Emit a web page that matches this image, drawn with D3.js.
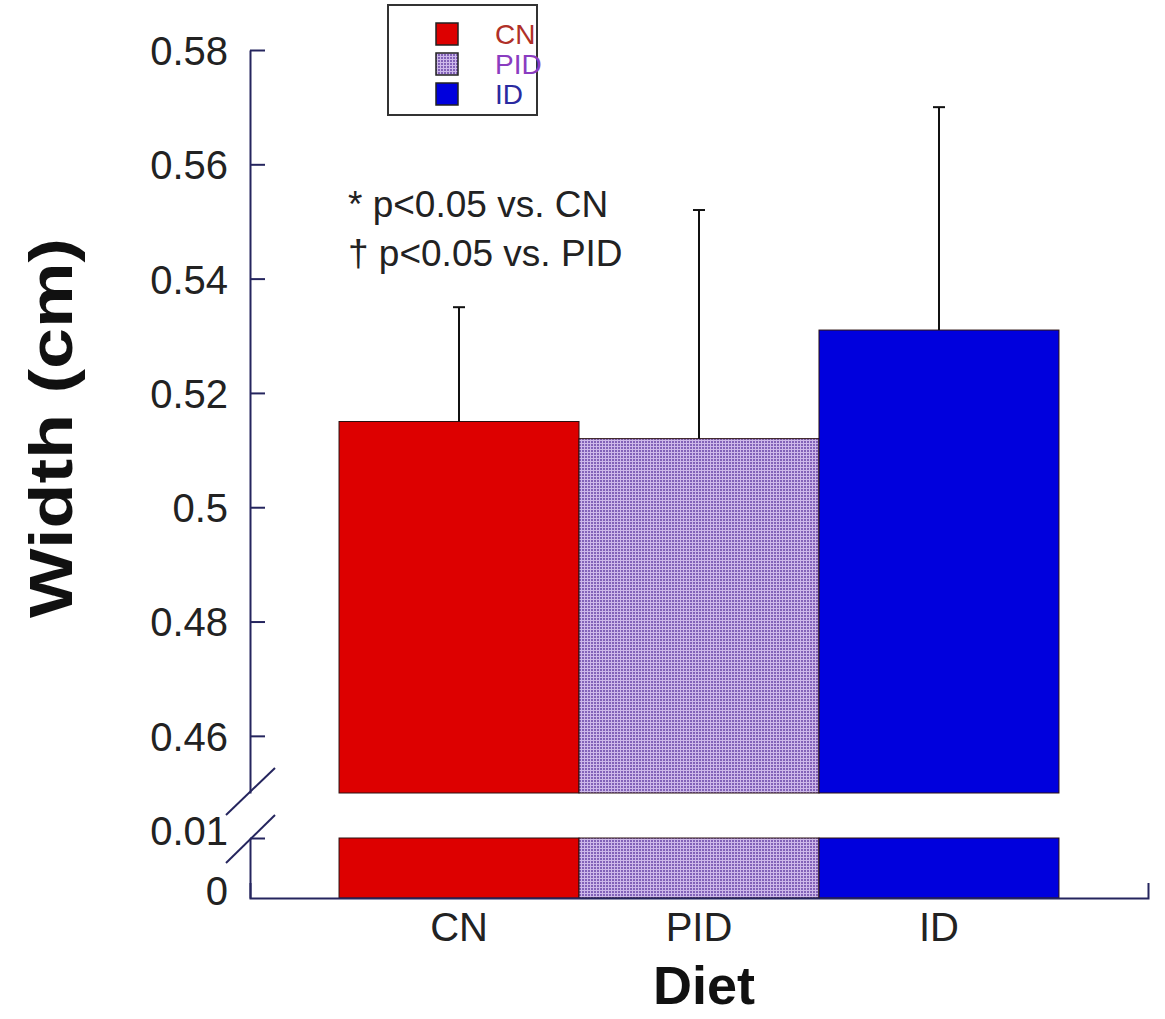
<!DOCTYPE html>
<html><head><meta charset="utf-8">
<script src="https://cdn.jsdelivr.net/npm/d3@7"></script>
<style>body{margin:0;background:#fff}text{font-family:"Liberation Sans",Arial,sans-serif}</style>
</head><body>
<svg id="c" width="1165" height="1019"></svg>
<script>
const categories = ["CN", "PID", "ID"];
const means = [0.515, 0.512, 0.531];
const errors = [0.020, 0.040, 0.039];
const upperTicks = [0.46, 0.48, 0.50, 0.52, 0.54, 0.56, 0.58];
const lowerTicks = [0, 0.01];
const legendLabels = ["CN", "PID", "ID"];
const notes = ["* p<0.05 vs. CN", "\u2020 p<0.05 vs. PID"];

const svg = d3.select("#c");
const defs = svg.append("defs");
const pat = defs.append("pattern").attr("id","pid").attr("width",3).attr("height",3).attr("patternUnits","userSpaceOnUse");
pat.append("rect").attr("width",3).attr("height",3).attr("fill","#cdb8ea");
pat.append("rect").attr("width",2).attr("height",2).attr("fill","#8262b8");

const fills = ["#dd0000", "url(#pid)", "#0000dd"];
const textCols = ["#b03028", "#8a3cc0", "#2a2aa0"];

const x = d3.scaleBand().domain(categories).range([250, 1148]).paddingInner(0).paddingOuter(0.371);
const yU = d3.scaleLinear().domain([0.45, 0.58]).range([793, 50]);
const yL = d3.scaleLinear().domain([0, 0.01]).range([898, 838]);
const axisCol = "#25255e";

// bars
const g = svg.append("g");
categories.forEach((c, i) => {
  g.append("rect").attr("x", x(c)).attr("width", x.bandwidth())
    .attr("y", yU(means[i])).attr("height", yU(0.45) - yU(means[i]))
    .attr("fill", fills[i]).attr("stroke", "#2a1010").attr("stroke-width", 1);
  g.append("rect").attr("x", x(c)).attr("width", x.bandwidth())
    .attr("y", yL(0.01)).attr("height", yL(0) - yL(0.01))
    .attr("fill", fills[i]).attr("stroke", "#2a1010").attr("stroke-width", 1);
  const cx = x(c) + x.bandwidth()/2;
  g.append("line").attr("x1", cx).attr("x2", cx).attr("y1", yU(means[i])).attr("y2", yU(means[i]+errors[i]))
    .attr("stroke", "#111").attr("stroke-width", 2);
  g.append("line").attr("x1", cx-6).attr("x2", cx+6).attr("y1", yU(means[i]+errors[i])).attr("y2", yU(means[i]+errors[i]))
    .attr("stroke", "#111").attr("stroke-width", 2);
});

// y axes
const fmt = d => d3.format("")(+d.toFixed(2));
const aU = svg.append("g").attr("transform","translate(250,0)")
  .call(d3.axisLeft(yU).tickValues(upperTicks).tickSizeInner(-15).tickSizeOuter(0).tickPadding(22).tickFormat(fmt));
const aL = svg.append("g").attr("transform","translate(250,0)")
  .call(d3.axisLeft(yL).tickValues(lowerTicks).tickSizeInner(-15).tickSizeOuter(0).tickPadding(22).tickFormat(fmt));
[aU, aL].forEach(a => {
  a.selectAll("path,line").attr("stroke", axisCol).attr("stroke-width", 2);
  a.selectAll("text").attr("font-size", 40).attr("fill", "#222").attr("dy","0.36em");
});
aL.selectAll("text").attr("y", -8);
aL.selectAll(".tick").filter(d => d === 0).select("line").remove();
// break slashes
svg.append("line").attr("x1",226).attr("y1",815).attr("x2",275).attr("y2",768).attr("stroke",axisCol).attr("stroke-width",2);
svg.append("line").attr("x1",226).attr("y1",863).attr("x2",275).attr("y2",815).attr("stroke",axisCol).attr("stroke-width",2);

// x axis
const ax = svg.append("g").attr("transform","translate(0,898)")
  .call(d3.axisBottom(x).tickSizeInner(0).tickSizeOuter(-15).tickPadding(15));
ax.selectAll("path").attr("stroke", axisCol).attr("stroke-width", 2);
ax.selectAll("text").attr("font-size", 40).attr("fill", "#222");

// titles
svg.append("text").attr("transform","translate(72,428) rotate(-90)").attr("text-anchor","middle")
  .attr("font-size",62).attr("font-weight","bold").attr("fill","#111")
  .attr("textLength",380).attr("lengthAdjust","spacingAndGlyphs").text("Width (cm)");
svg.append("text").attr("x",704).attr("y",1004).attr("text-anchor","middle")
  .attr("font-size",54).attr("font-weight","bold").attr("fill","#111").text("Diet");

// notes
notes.forEach((t, i) => svg.append("text").attr("x",348).attr("y",217 + i*49).attr("font-size",37).attr("fill","#222").text(t));

// legend
svg.append("rect").attr("x",388).attr("y",5).attr("width",149).attr("height",110).attr("fill","#fff").attr("stroke","#333").attr("stroke-width",2);
legendLabels.forEach((l, i) => {
  const yy = 23 + i*30;
  svg.append("rect").attr("x",436).attr("y",yy).attr("width",22).attr("height",22).attr("fill",fills[i]).attr("stroke","#222").attr("stroke-width",1.5);
  svg.append("text").attr("x",495).attr("y",yy+21).attr("font-size",28).attr("fill",textCols[i]).text(l);
});
</script>
</body></html>
